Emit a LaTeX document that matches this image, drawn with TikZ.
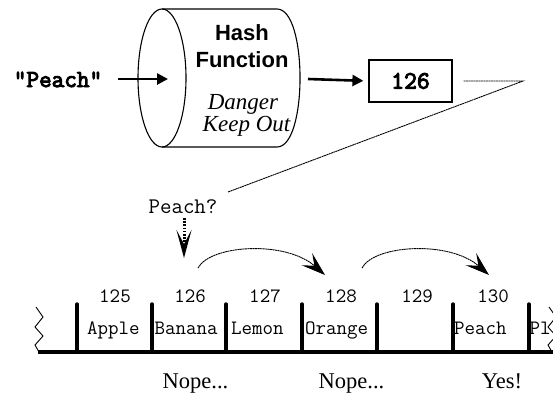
\documentclass[tikz,border=0pt]{standalone}
\usepackage{fontspec}
\setmainfont{Liberation Serif}
\newfontfamily\sansf{Liberation Sans}
\newfontfamily\monobold{Latin Modern Mono}[FakeBold=4]
\usetikzlibrary{arrows.meta}
\begin{document}
\begin{tikzpicture}[x=1pt,y=-1pt,
  txt/.style={inner sep=0pt, anchor=base},
  bigmono/.style={txt, font=\monobold\fontsize{24.5}{28}\selectfont},
  smallmono/.style={txt, font=\ttfamily\fontsize{20.4}{24}\selectfont},
  serifl/.style={txt, font=\fontsize{22.5}{26}\selectfont},
  hashf/.style={txt, font=\sansf\bfseries\fontsize{22}{26}\selectfont},
  dang/.style={txt, font=\itshape\fontsize{23}{26}\selectfont},
  thickarrow/.style={line width=2.6pt, -{Triangle[length=11pt,width=11pt]}},
  fineline/.style={line width=0.9pt, dash pattern=on 2pt off 0.5pt},
  curvearrow/.style={fineline, -{Stealth[length=24pt,width=16pt,inset=10pt]}},
  tick/.style={line width=3.4pt, line cap=round},
  zig/.style={line width=0.9pt}
]
\useasboundingbox (0,0) rectangle (553,392);
\clip (0,0) rectangle (553,392);

% input and hash function
\node[bigmono] (in) at (58,87) {"Peach"};
\draw[line width=1.1pt] (162,78) ellipse [x radius=24, y radius=69];
\draw[line width=1.1pt] (162,9) -- (277,9) .. controls (307.7,9) and (307.7,147) .. (277,147) -- (162,147);
\coordinate (ins) at (118,79);
\coordinate (cylin) at (168,79);
\coordinate (cylout) at (308,79);
\node[hashf] (hash) at (242,40.5) {Hash};
\node[hashf] (func) at (242,67) {Function};
\node[dang] (danger) at (243,109) {Danger};
\node[dang] (keep) at (246.5,131) {Keep Out};
\draw[thickarrow] (ins) -- (cylin);
\node[draw, line width=1.2pt, minimum width=83pt, minimum height=42pt, inner sep=0pt,
      font=\monobold\fontsize{25}{28}\selectfont] (box) at (410.5,81) {126};
\draw[thickarrow] (cylout) -- (box.west) [shorten >=5pt];

% dotted pointer line
\coordinate (turn) at (523,81);
\coordinate (lend) at (228,192);
\draw[fineline] (box.east) [shorten <=11pt] -- (turn) -- (lend);

% probe
\node[txt, font=\ttfamily\fontsize{22.3}{26}\selectfont] (q) at (183,213) {Peach?};
\coordinate (qs) at (184,218);
\coordinate (qtip) at (184,258);
\draw[line width=3pt, dash pattern=on 1.6pt off 1.6pt,
      -{Stealth[length=28pt,width=15pt,inset=14pt]}] (qs) -- (qtip);

% curved probe arrows
\coordinate (c1s) at (198,268);
\coordinate (c1e) at (325,275);
\coordinate (c2s) at (362,268);
\coordinate (c2e) at (489,275);
\draw[curvearrow] (c1s) .. controls (210,245) and (285,240) .. (c1e);
\draw[curvearrow] (c2s) .. controls (374,245) and (449,240) .. (c2e);

% number line
\coordinate (bl) at (38,352);
\coordinate (br) at (553,352);
\draw[line width=3.4pt] (bl) -- (br);
\foreach \x/\n in {77/t0,152/t1,226/t2,302/t3,377/t4,453/t5,529/t6}{
  \coordinate (\n top) at (\x,304);
  \coordinate (\n bot) at (\x,352);
  \draw[tick] (\n top) -- (\n bot);
}
\draw[zig] (36,307) -- (43,317) -- (35,327) -- (43,336) -- (35,345) -- (39,352);
\draw[zig] (549,307) -- (556,317) -- (548,327) -- (556,336) -- (548,345) -- (552,352);

% slot numbers
\node[smallmono] (n125) at (115,302) {125};
\node[smallmono] (n126) at (190,302) {126};
\node[smallmono] (n127) at (265,302) {127};
\node[smallmono] (n128) at (341,302) {128};
\node[smallmono] (n129) at (417,302) {129};
\node[smallmono] (n130) at (493,302) {130};

% slot contents
\node[smallmono, anchor=base west] (s1) at (87,334) {Apple};
\node[smallmono, anchor=base west] (s2) at (154.5,334) {Banana};
\node[smallmono, anchor=base west] (s3) at (231,334) {Lemon};
\node[smallmono, anchor=base west] (s4) at (305,334) {Orange};
\node[smallmono, anchor=base west] (s5) at (454,334) {Peach};
\node[smallmono, anchor=base west] (s6) at (529.5,334) {Pl};

% verdicts
\node[serifl] (v1) at (195.5,388) {Nope...};
\node[serifl] (v2) at (351.5,388) {Nope...};
\node[serifl] (v3) at (502,388) {Yes!};
\end{tikzpicture}
\end{document}
